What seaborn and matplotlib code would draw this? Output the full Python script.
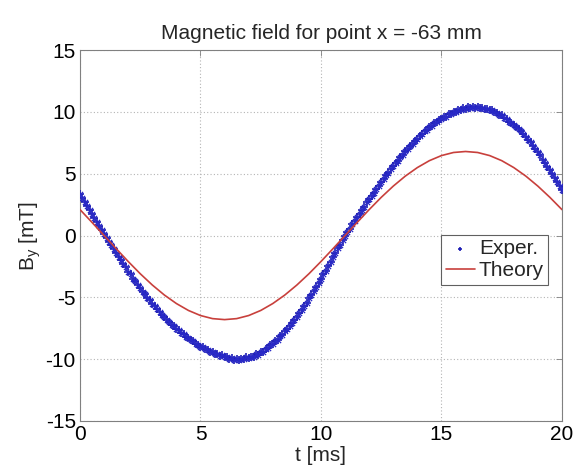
import matplotlib
matplotlib.use("Agg")
import matplotlib.pyplot as plt
import seaborn as sns
import numpy as np
import pandas as pd

# Measured field, sampled every 0.1 ms
t_exp = [round(0.1 * i, 1) for i in range(201)]
b_exp = [
    3.35, 3.05, 2.68, 2.40, 2.03, 1.76, 1.40, 1.12, 0.74, 0.47, 0.10,
    -0.18, -0.52, -0.78, -1.12, -1.38, -1.73, -1.98, -2.32, -2.58, -2.92,
    -3.15, -3.48, -3.69, -4.02, -4.22, -4.55, -4.74, -5.05, -5.22, -5.52,
    -5.70, -5.98, -6.15, -6.42, -6.58, -6.82, -6.96, -7.22, -7.35, -7.58,
    -7.68, -7.88, -7.98, -8.20, -8.28, -8.48, -8.55, -8.75, -8.82, -8.98,
    -9.02, -9.18, -9.22, -9.40, -9.42, -9.58, -9.57, -9.72, -9.70, -9.84,
    -9.82, -9.95, -9.90, -10.05, -9.96, -10.08, -9.95, -10.02, -9.86, -9.92,
    -9.80, -9.82, -9.62, -9.64, -9.45, -9.40, -9.18, -9.12, -8.85, -8.78,
    -8.52, -8.45, -8.15, -8.02, -7.76, -7.60, -7.30, -7.10, -6.80, -6.55,
    -6.28, -6.02, -5.70, -5.45, -5.08, -4.82, -4.45, -4.18, -3.80, -3.50,
    -3.12, -2.85, -2.45, -2.14, -1.75, -1.45, -1.04, -0.74, -0.32, -0.02,
    0.32, 0.55, 0.92, 1.15, 1.50, 1.74, 2.08, 2.32, 2.68, 2.92,
    3.24, 3.45, 3.80, 4.00, 4.35, 4.55, 4.88, 5.06, 5.40, 5.60,
    5.90, 6.06, 6.38, 6.55, 6.84, 6.98, 7.28, 7.40, 7.68, 7.85,
    8.06, 8.18, 8.45, 8.55, 8.78, 8.86, 9.08, 9.15, 9.38, 9.44,
    9.60, 9.62, 9.82, 9.84, 9.98, 10.00, 10.15, 10.12, 10.28, 10.24,
    10.36, 10.28, 10.42, 10.32, 10.40, 10.30, 10.34, 10.22, 10.24, 10.15,
    10.12, 9.96, 9.94, 9.75, 9.72, 9.50, 9.45, 9.22, 9.14, 8.92,
    8.82, 8.58, 8.45, 8.18, 7.98, 7.74, 7.55, 7.25, 7.04, 6.72,
    6.48, 6.15, 5.90, 5.55, 5.28, 4.95, 4.68, 4.30, 4.04, 3.68,
]

# Theoretical field, every 0.5 ms
t_th = [0.5 * i for i in range(41)]
b_th = [
    2.10, 1.06, 0.00, -1.06, -2.10, -3.09, -4.00, -4.81, -5.50, -6.06,
    -6.47, -6.72, -6.80, -6.72, -6.47, -6.06, -5.50, -4.81, -4.00, -3.09,
    -2.10, -1.06, 0.00, 1.06, 2.10, 3.09, 4.00, 4.81, 5.50, 6.06,
    6.47, 6.72, 6.80, 6.72, 6.47, 6.06, 5.50, 4.81, 4.00, 3.09, 2.10,
]

x_ticks = [0, 5, 10, 15, 20]
y_ticks = [-15, -10, -5, 0, 5, 10, 15]

sns.set_theme(style="white")
plt.rcParams["font.family"] = ["Liberation Sans", "DejaVu Sans"]
plt.rcParams["mathtext.fontset"] = "custom"
plt.rcParams["mathtext.rm"] = "Liberation Sans"
plt.rcParams["mathtext.it"] = "Liberation Sans"
plt.rcParams["axes.unicode_minus"] = False

df_exp = pd.DataFrame({"t": t_exp, "B": b_exp})
df_th = pd.DataFrame({"t": t_th, "B": b_th})

fig = plt.figure(figsize=(5.74, 4.73), dpi=100)
ax = fig.add_axes([0.1394, 0.110, 0.8396, 0.784])

sns.scatterplot(data=df_exp, x="t", y="B", ax=ax, marker="+", s=26,
                color="#1e1eb4", linewidth=1.2, label="Exper.", zorder=3)
sns.scatterplot(data=df_exp, x="t", y="B", ax=ax, marker="x", s=14,
                color="#2a2ac8", linewidth=0.9, zorder=3, legend=False)
sns.lineplot(data=df_th, x="t", y="B", ax=ax, color="#c8403c",
             linewidth=1.2, label="Theory", zorder=4)

ax.set_xlim(0, 20)
ax.set_ylim(-15, 15)
ax.set_xticks(x_ticks)
ax.set_yticks(y_ticks)
ax.tick_params(direction="in", length=4, width=0.6, color="#808080",
               labelsize=15, pad=3, top=True, right=True,
               labelcolor="black")
for sp in ax.spines.values():
    sp.set_color("#808080")
    sp.set_linewidth(0.8)
ax.grid(True, linestyle=(0, (1, 2)), color="#b4b4b4", linewidth=0.8)

ax.set_title("Magnetic field for point x = -63 mm", fontsize=15, pad=8)
ax.set_xlabel("t [ms]", fontsize=15, labelpad=1)
ax.set_ylabel(r"B$_\mathrm{y}$ [mT]", fontsize=15, labelpad=2)

leg = ax.legend(loc="upper left", bbox_to_anchor=(0.75, 0.501),
                fontsize=15, frameon=True, fancybox=False, framealpha=1,
                edgecolor="#606060", borderpad=0.2, labelspacing=0.15,
                handlelength=1.4, handletextpad=0.2, borderaxespad=0,
                markerscale=0.45)
leg.get_frame().set_linewidth(0.8)

fig.savefig("out.png", dpi=100)
